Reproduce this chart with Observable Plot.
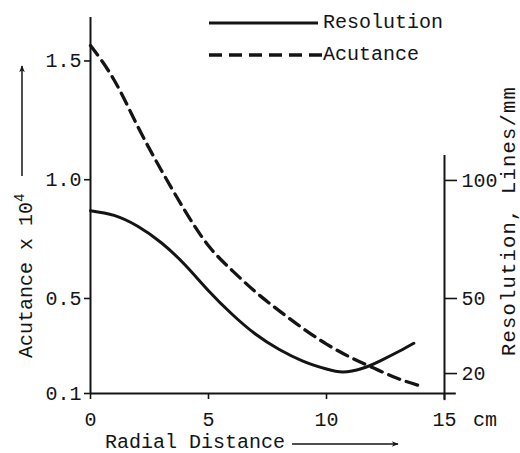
<!DOCTYPE html>
<html><head><meta charset="utf-8">
<script src="https://cdn.jsdelivr.net/npm/d3@7"></script>
<script src="https://cdn.jsdelivr.net/npm/@observablehq/plot@0.6"></script>
<style>body{margin:0;background:#fff} svg{display:block}</style>
</head><body><div id="chart"></div>
<script>
// Data
const acutanceX = [0, 1, 2, 3, 4, 5, 6, 7, 8, 9, 10, 11, 12, 13, 13.9];
const acutance  = [1.565, 1.42, 1.225, 1.04, 0.87, 0.722, 0.618, 0.527, 0.448, 0.374, 0.308, 0.253, 0.207, 0.164, 0.134];
const resolutionX = [0, 1, 2, 3, 4, 5, 6, 7, 8, 9, 10, 10.7, 11.5, 12.3, 13.1, 13.7];
const resolution  = [87.2, 85.2, 80.6, 73.6, 64.3, 53.3, 43.7, 35.7, 29.6, 25.0, 21.8, 20.6, 22.0, 25.2, 29.0, 32.1];
const xTicks = [0, 5, 10, 15];
const acutanceTicks = [0.1, 0.5, 1.0, 1.5];
const resolutionTicks = [20, 50, 100];
// where each resolution tick sits on the acutance axis
const resolutionTickPos = [0.184, 0.5, 0.997];

const resToY = d3.scaleLinear(resolutionTicks, resolutionTickPos);
const acuData = acutanceX.map((x, i) => ({x, y: acutance[i]}));
const resData = resolutionX.map((x, i) => ({x, res: resolution[i]}));

const FONT = "Liberation Mono, DejaVu Sans Mono, monospace";
const INK = "#141414";

const chart = Plot.plot({
  width: 520, height: 453,
  marginLeft: 90, marginRight: 76, marginTop: 17, marginBottom: 60,
  style: {fontFamily: FONT, fontSize: "20px", color: INK, background: "#fff", overflow: "visible"},
  x: {domain: [0, 15]},
  y: {domain: [0.1, 1.683]},
  marks: [
    Plot.ruleX([0], {stroke: INK, strokeWidth: 2}),
    Plot.ruleY([0.1], {x1: 0, x2: 15.5, stroke: INK, strokeWidth: 2, clip: false}),
    Plot.ruleX([15], {y1: 0.07, y2: 1.102, stroke: INK, strokeWidth: 2, clip: false}),
    Plot.axisX(xTicks, {tickSize: 6, tickPadding: 12, label: null, tickFormat: d => String(d), stroke: INK, strokeWidth: 1.6, fill: INK}),
    Plot.axisY(acutanceTicks, {anchor: "left", tickSize: 6, tickPadding: 3, label: null, tickFormat: d3.format(".1f"), stroke: INK, strokeWidth: 1.6, fill: INK}),
    Plot.axisY(resolutionTickPos, {anchor: "right", tickSize: 12, tickPadding: 5, label: null, tickFormat: d => Math.round(resToY.invert(d)), stroke: INK, strokeWidth: 1.6, fill: INK}),
    Plot.line(acuData, {x: "x", y: "y", curve: "natural", stroke: INK, strokeWidth: 3.3, strokeDasharray: "12,7"}),
    Plot.line(resData, {x: "x", y: d => resToY(d.res), curve: "natural", stroke: INK, strokeWidth: 3})
  ]
});

const svg = d3.select(chart);
const defs = svg.append("defs");
defs.append("marker").attr("id", "ah").attr("viewBox", "0 0 10 10").attr("refX", 9).attr("refY", 5)
  .attr("markerWidth", 8).attr("markerHeight", 7).attr("markerUnits", "userSpaceOnUse").attr("orient", "auto")
  .append("path").attr("d", "M0,1 L10,5 L0,9 L3,5 Z").attr("fill", INK);

const g = svg.append("g").attr("font-family", FONT).attr("fill", INK).attr("text-anchor", "start");
// legend
g.append("line").attr("x1", 209).attr("x2", 318).attr("y1", 23).attr("y2", 23).attr("stroke", INK).attr("stroke-width", 3);
g.append("text").attr("x", 323).attr("y", 28).attr("font-size", 20).text("Resolution");
g.append("line").attr("x1", 209).attr("x2", 322).attr("y1", 55).attr("y2", 55).attr("stroke", INK).attr("stroke-width", 3.3).attr("stroke-dasharray", "13,7");
g.append("text").attr("x", 323).attr("y", 60).attr("font-size", 20).text("Acutance");

// left axis label
const lt = g.append("text").attr("transform", "translate(32,358) rotate(-90)").attr("font-size", 20);
lt.append("tspan").text("Acutance x 10");
lt.append("tspan").attr("dy", -8).attr("font-size", 14).text("4");
g.append("line").attr("x1", 22).attr("x2", 22).attr("y1", 176).attr("y2", 66).attr("stroke", INK).attr("stroke-width", 1.5).attr("marker-end", "url(#ah)");

// right axis label
g.append("text").attr("transform", "translate(515,221) rotate(-90)").attr("text-anchor", "middle")
  .attr("font-size", 20.5).attr("letter-spacing", 1.2).text("Resolution, Lines/mm");

// x axis label
g.append("text").attr("x", 105).attr("y", 448).attr("font-size", 20).text("Radial Distance");
g.append("line").attr("x1", 292).attr("x2", 398).attr("y1", 444).attr("y2", 444).attr("stroke", INK).attr("stroke-width", 1.5).attr("marker-end", "url(#ah)");
g.append("text").attr("x", 473).attr("y", 426).attr("font-size", 20).text("cm");

document.getElementById("chart").appendChild(chart);
</script>
</body></html>
